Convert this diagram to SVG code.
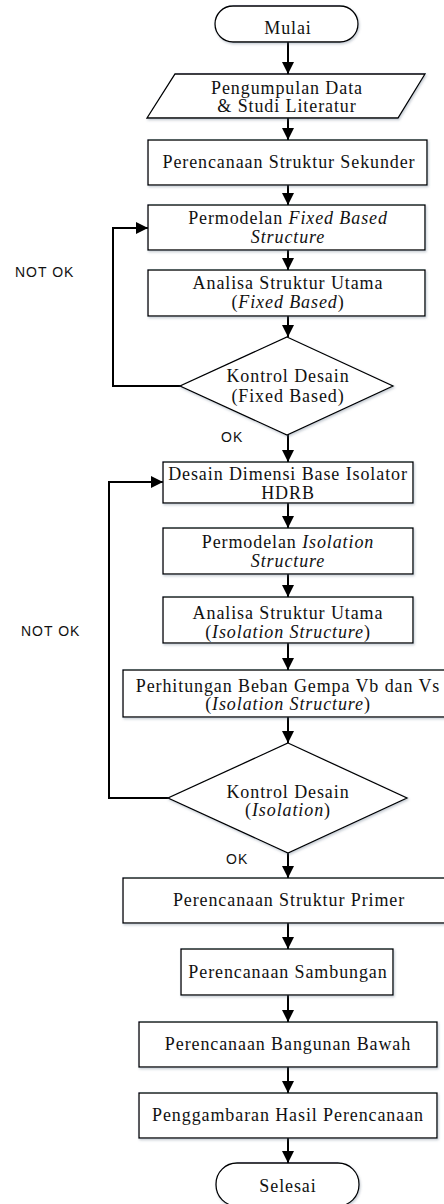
<svg xmlns="http://www.w3.org/2000/svg" width="444" height="1204" viewBox="0 0 444 1204">
<style>
.box{fill:#fff;stroke:#000;stroke-width:1.3;filter:url(#sh)}
.t{font-family:"Liberation Serif","Times New Roman",serif;font-size:18px;letter-spacing:0.9px;text-anchor:middle;fill:#111}
.i{font-style:italic}
.lbl{font-family:"Liberation Sans",Arial,sans-serif;font-size:14px;letter-spacing:1px;fill:#111}
.c{fill:none;stroke:#000;stroke-width:2}
</style>
<defs>
<filter id="sh" x="-5%" y="-10%" width="110%" height="130%">
<feDropShadow dx="1" dy="1.5" stdDeviation="1" flood-color="#5a6a80" flood-opacity="0.35"/>
</filter>
<marker id="ah" markerUnits="userSpaceOnUse" markerWidth="12" markerHeight="13" refX="12" refY="6" orient="auto">
<path d="M0,0 L12,6 L0,12 z" fill="#000"/>
</marker>
</defs>

<g id="connectors">
<line class="c" x1="288" y1="42" x2="288" y2="74" marker-end="url(#ah)"/>
<line class="c" x1="288" y1="118" x2="288" y2="140" marker-end="url(#ah)"/>
<line class="c" x1="288" y1="185" x2="288" y2="205" marker-end="url(#ah)"/>
<line class="c" x1="288" y1="250" x2="288" y2="270" marker-end="url(#ah)"/>
<line class="c" x1="288" y1="316" x2="288" y2="337" marker-end="url(#ah)"/>
<line class="c" x1="288" y1="435" x2="288" y2="462" marker-end="url(#ah)"/>
<line class="c" x1="288" y1="503" x2="288" y2="528" marker-end="url(#ah)"/>
<line class="c" x1="288" y1="574" x2="288" y2="597" marker-end="url(#ah)"/>
<line class="c" x1="288" y1="643" x2="288" y2="670" marker-end="url(#ah)"/>
<line class="c" x1="288" y1="717" x2="288" y2="743" marker-end="url(#ah)"/>
<line class="c" x1="288" y1="853" x2="288" y2="878" marker-end="url(#ah)"/>
<line class="c" x1="288" y1="923" x2="288" y2="949" marker-end="url(#ah)"/>
<line class="c" x1="288" y1="995" x2="288" y2="1022" marker-end="url(#ah)"/>
<line class="c" x1="288" y1="1067" x2="288" y2="1093" marker-end="url(#ah)"/>
<line class="c" x1="288" y1="1138" x2="288" y2="1163" marker-end="url(#ah)"/>
<polyline class="c" points="180,386 113,386 113,228 148,228" marker-end="url(#ah)"/>
<polyline class="c" points="168,798 109,798 109,482 163,482" marker-end="url(#ah)"/>
<text class="lbl" x="15" y="277">NOT OK</text>
<text class="lbl" x="221" y="442">OK</text>
<text class="lbl" x="21" y="636">NOT OK</text>
<text class="lbl" x="226" y="864">OK</text>
</g>

<g id="mulai">
<rect class="box" x="215" y="6" width="143" height="36" rx="18"/>
<text class="t" x="288" y="34">Mulai</text>
</g>
<g id="pengumpulan">
<polygon class="box" points="175,74 425,74 398,118 147,118"/>
<text class="t" x="287" y="94">Pengumpulan Data</text>
<text class="t" x="287" y="112">&amp; Studi Literatur</text>
</g>
<g id="sekunder">
<rect class="box" x="148" y="140" width="279" height="45"/>
<text class="t" x="289" y="168">Perencanaan Struktur Sekunder</text>
</g>
<g id="permodelan-fixed">
<rect class="box" x="148" y="205" width="277" height="45"/>
<text class="t" x="288" y="224">Permodelan <tspan class="i">Fixed Based</tspan></text>
<text class="t i" x="288" y="243">Structure</text>
</g>
<g id="analisa-fixed">
<rect class="box" x="148" y="270" width="277" height="46"/>
<text class="t" x="288" y="289">Analisa Struktur Utama</text>
<text class="t" x="288" y="308">(<tspan class="i">Fixed Based</tspan>)</text>
</g>
<g id="kontrol-fixed">
<polygon class="box" points="287,337 393,386 287,435 180,386"/>
<text class="t" x="288" y="382">Kontrol Desain</text>
<text class="t" x="288" y="402">(Fixed Based)</text>
</g>
<g id="desain-hdrb">
<rect class="box" x="163" y="462" width="250" height="41"/>
<text class="t" x="288" y="480">Desain Dimensi Base Isolator</text>
<text class="t" x="288" y="499">HDRB</text>
</g>
<g id="permodelan-iso">
<rect class="box" x="163" y="528" width="250" height="46"/>
<text class="t" x="288" y="548">Permodelan <tspan class="i">Isolation</tspan></text>
<text class="t i" x="288" y="567">Structure</text>
</g>
<g id="analisa-iso">
<rect class="box" x="163" y="597" width="250" height="46"/>
<text class="t" x="288" y="619">Analisa Struktur Utama</text>
<text class="t" x="288" y="638">(<tspan class="i">Isolation Structure</tspan>)</text>
</g>
<g id="perhitungan">
<rect class="box" x="123" y="670" width="330" height="47"/>
<text class="t" x="288" y="692">Perhitungan Beban Gempa Vb dan Vs</text>
<text class="t" x="288" y="710">(<tspan class="i">Isolation Structure</tspan>)</text>
</g>
<g id="kontrol-iso">
<polygon class="box" points="288,743 407,798 288,853 168,798"/>
<text class="t" x="288" y="798">Kontrol Desain</text>
<text class="t" x="288" y="816">(<tspan class="i">Isolation</tspan>)</text>
</g>
<g id="primer">
<rect class="box" x="123" y="878" width="330" height="45"/>
<text class="t" x="289" y="906">Perencanaan Struktur Primer</text>
</g>
<g id="sambungan">
<rect class="box" x="181" y="949" width="212" height="46"/>
<text class="t" x="288" y="978">Perencanaan Sambungan</text>
</g>
<g id="bangunan-bawah">
<rect class="box" x="139" y="1022" width="298" height="45"/>
<text class="t" x="288" y="1050">Perencanaan Bangunan Bawah</text>
</g>
<g id="penggambaran">
<rect class="box" x="139" y="1093" width="298" height="45"/>
<text class="t" x="288" y="1121">Penggambaran Hasil Perencanaan</text>
</g>
<g id="selesai">
<rect class="box" x="216" y="1163" width="143" height="43" rx="21"/>
<text class="t" x="288" y="1192">Selesai</text>
</g>
</svg>
